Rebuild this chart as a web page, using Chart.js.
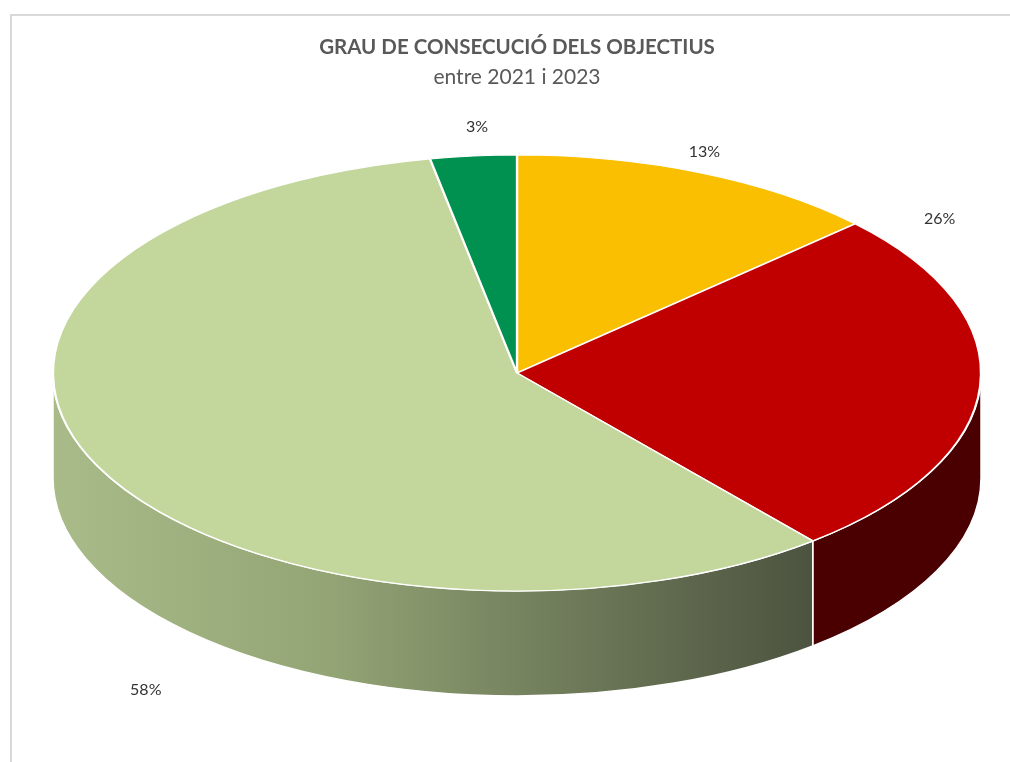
<!DOCTYPE html>
<html>
<head>
<meta charset="utf-8">
<script src="https://cdn.jsdelivr.net/npm/chart.js@4.4.1/dist/chart.umd.min.js"></script>
<style>
  html, body { margin: 0; padding: 0; background: #fff; }
  #wrap { width: 1010px; height: 762px; }
</style>
</head>
<body>
<div id="wrap"><canvas id="chart" width="1010" height="762"></canvas></div>
<script>
/* dades */
var categories = ['Parcialment assolit', 'No assolit', 'Assolit', 'Superat'];
var values     = [13, 26, 58, 3];
var topColors  = ['#FABF00', '#C00000', '#C3D69B', '#00904F'];
var sideColors = ['#7d5f00', '#4a0000', null, '#004828'];   // null = degradat

/* geometria de l'el·lipse 3D (estil, no dades) */
var geo = { cx: 517, cy: 373, rx: 464, ry: 218, depth: 105 };
var labelNudge = [[-19, 3], [-96, -169], [99, 213], [9, -3]];

/* marc gris de l'àrea del gràfic */
var frame = {
  id: 'frame',
  beforeDraw: function(chart) {
    var ctx = chart.ctx;
    ctx.save();
    ctx.strokeStyle = '#d9d9d9';
    ctx.lineWidth = 2;
    ctx.beginPath();
    ctx.moveTo(11, 762); ctx.lineTo(11, 15); ctx.lineTo(1010, 15);
    ctx.stroke();
    ctx.restore();
  }
};

/* pastís 3D: parets laterals + cara superior aplanada */
var pie3d = {
  id: 'pie3d',
  beforeDatasetsDraw: function(chart) {
    var ctx = chart.ctx;
    var arcs = chart.getDatasetMeta(0).data;
    var g = geo;

    arcs.forEach(function(a, i) {
      var a0 = Math.max(a.startAngle, 0);
      var a1 = Math.min(a.endAngle, Math.PI);
      if (a1 <= a0) return;
      ctx.save();
      ctx.beginPath();
      ctx.ellipse(g.cx, g.cy, g.rx, g.ry, 0, a0, a1, false);
      ctx.lineTo(g.cx + g.rx * Math.cos(a1), g.cy + g.depth + g.ry * Math.sin(a1));
      ctx.ellipse(g.cx, g.cy + g.depth, g.rx, g.ry, 0, a1, a0, true);
      ctx.closePath();
      if (sideColors[i]) {
        ctx.fillStyle = sideColors[i];
      } else {
        var x0 = g.cx + g.rx * Math.cos(a1);
        var x1 = g.cx + g.rx * Math.cos(a0);
        var grd = ctx.createLinearGradient(Math.min(x0, x1), 0, Math.max(x0, x1), 0);
        grd.addColorStop(0, '#a9bb89');
        grd.addColorStop(0.35, '#95a676');
        grd.addColorStop(0.7, '#6c7858');
        grd.addColorStop(1, '#4c533f');
        ctx.fillStyle = grd;
      }
      ctx.fill();
      ctx.strokeStyle = '#ffffff';
      ctx.lineWidth = 1.5;
      ctx.stroke();
      ctx.restore();
    });

    var ref = arcs[0];
    ctx.save();
    ctx.translate(g.cx, g.cy);
    ctx.scale(g.rx / ref.outerRadius, g.ry / ref.outerRadius);
    ctx.translate(-ref.x, -ref.y);
  },
  afterDatasetsDraw: function(chart) {
    var ctx = chart.ctx;
    ctx.restore();
    var arcs = chart.getDatasetMeta(0).data;
    var total = values.reduce(function(s, v) { return s + v; }, 0);
    ctx.save();
    ctx.fillStyle = '#333333';
    ctx.font = '16px Lato, "Open Sans", sans-serif';
    ctx.textAlign = 'center';
    ctx.textBaseline = 'middle';
    arcs.forEach(function(a, i) {
      var mid = (a.startAngle + a.endAngle) / 2;
      var x = geo.cx + geo.rx * 1.12 * Math.cos(mid) + labelNudge[i][0];
      var y = geo.cy + geo.ry * 1.12 * Math.sin(mid) + labelNudge[i][1];
      ctx.fillText(Math.round(values[i] / total * 100) + '%', x, y);
    });
    ctx.restore();
  }
};

new Chart(document.getElementById('chart'), {
  type: 'pie',
  data: {
    labels: categories,
    datasets: [{
      data: values,
      backgroundColor: topColors,
      borderColor: '#ffffff',
      borderWidth: 1.6
    }]
  },
  options: {
    responsive: false,
    animation: false,
    events: [],
    layout: { padding: { left: 44, right: 20, bottom: 20 } },
    plugins: {
      legend: { display: false },
      tooltip: { enabled: false },
      title: {
        display: true,
        text: 'GRAU DE CONSECUCIÓ DELS OBJECTIUS',
        color: '#595959',
        font: { family: 'Lato, "Open Sans", sans-serif', size: 20.5, weight: 'bold' },
        padding: { top: 35, bottom: 2 }
      },
      subtitle: {
        display: true,
        text: 'entre 2021 i 2023',
        color: '#595959',
        font: { family: 'Lato, "Open Sans", sans-serif', size: 21, weight: 'normal' },
        padding: { top: 3, bottom: 10 }
      }
    }
  },
  plugins: [frame, pie3d]
});
</script>
</body>
</html>
